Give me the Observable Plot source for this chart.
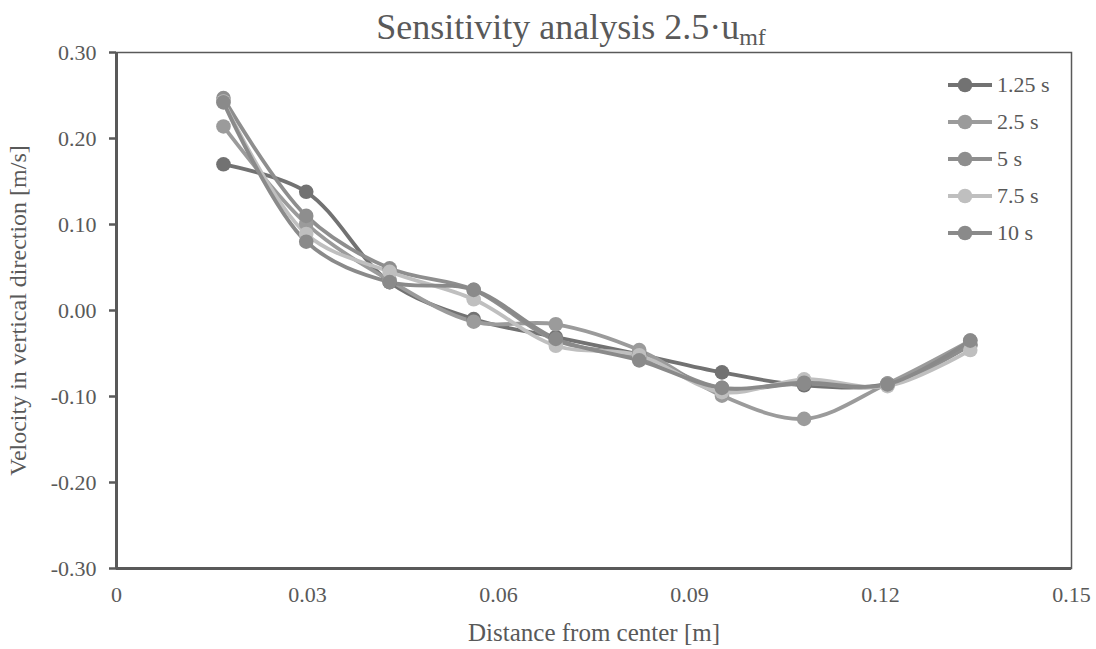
<!DOCTYPE html>
<html>
<head>
<meta charset="utf-8">
<script src="https://cdn.jsdelivr.net/npm/d3@7"></script>
<script src="https://cdn.jsdelivr.net/npm/@observablehq/plot@0.6"></script>
<style>
  html, body { margin: 0; padding: 0; background: #fff; }
  #wrap { position: relative; width: 1096px; height: 649px; font-family: "Liberation Serif", "DejaVu Serif", serif; color: #595959; }
  #title { height: 36px; text-align: center; font-size: 36px; line-height: 54px; padding-left: 46px; white-space: nowrap; }
  #title sub { font-size: 24px; vertical-align: -6px; line-height: 0; }
  #legend { position: absolute; left: 948px; top: 66px; font-size: 22px; }
  .lg { display: flex; align-items: center; height: 37.2px; }
  .lg svg { margin-right: 5px; }
  #chart svg text { font-family: "Liberation Serif", "DejaVu Serif", serif !important; fill: #595959; }
  #chart svg g[aria-label="y-axis tick label"] text, #chart svg g[aria-label="x-axis tick label"] text { font-size: 22px !important; }
  #chart svg g[aria-label="y-axis label"] text { font-size: 24px !important; }
  #chart svg g[aria-label="x-axis label"] text { font-size: 25px !important; }
</style>
</head>
<body>
<div id="wrap">
  <div id="title">Sensitivity analysis 2.5·u<sub>mf</sub></div>
  <div id="chart"></div>
  <div id="legend"></div>
</div>
<script>
const distance = [0.0168, 0.0298, 0.0429, 0.0561, 0.0690, 0.0821, 0.0951, 0.1080, 0.1211, 0.1341];
const seriesNames = ["1.25 s", "2.5 s", "5 s", "7.5 s", "10 s"];
const seriesColors = ["#727272", "#9b9b9b", "#8e8e8e", "#bfbfbf", "#8a8a8a"];
const v125 = [0.170, 0.138, 0.033, -0.010, -0.031, -0.051, -0.072, -0.087, -0.085, -0.040];
const v25  = [0.214, 0.101, 0.035, -0.013, -0.016, -0.046, -0.099, -0.126, -0.085, -0.035];
const v5   = [0.247, 0.110, 0.049, 0.024, -0.035, -0.054, -0.090, -0.085, -0.087, -0.040];
const v75  = [0.243, 0.089, 0.045, 0.013, -0.041, -0.052, -0.095, -0.080, -0.088, -0.046];
const v10  = [0.242, 0.080, 0.033, 0.024, -0.033, -0.058, -0.090, -0.084, -0.086, -0.035];
const yTicks = [-0.30, -0.20, -0.10, 0.00, 0.10, 0.20, 0.30];
const xTicks = [0, 0.03, 0.06, 0.09, 0.12, 0.15];

const allValues = [v125, v25, v5, v75, v10];
const rows = [];
allValues.forEach((vals, si) => {
  vals.forEach((v, i) => rows.push({series: seriesNames[si], x: distance[i], y: v}));
});

const color = {domain: seriesNames, range: seriesColors};
const ink = "#595959";

const chart = Plot.plot({
  width: 1096,
  height: 613,
  marginTop: 16,
  marginBottom: 81,
  marginLeft: 116,
  marginRight: 25,
  style: {fontFamily: '"Liberation Serif", serif', fontSize: "22px", color: ink, background: "#fff"},
  x: {domain: [0, 0.15]},
  y: {domain: [-0.3, 0.3]},
  color,
  marks: [
    Plot.axisY({ticks: yTicks, tickFormat: d => d.toFixed(2), tickSize: 7, tickPadding: 13, stroke: ink, strokeWidth: 2.5, color: ink,
      label: "Velocity in vertical direction [m/s]", labelAnchor: "center", labelOffset: 108, labelArrow: "none"}),
    Plot.axisX({ticks: xTicks, tickFormat: d => d === 0 ? "0" : d.toFixed(2), tickSize: 0, tickPadding: 18, color: ink,
      label: "Distance from center [m]", labelAnchor: "center", labelOffset: 72, labelArrow: "none"}),
    Plot.frame({stroke: ink, strokeWidth: 1.5}),
    Plot.ruleX([0], {stroke: ink, strokeWidth: 3}),
    Plot.ruleY([-0.3], {stroke: ink, strokeWidth: 3}),
    Plot.line(rows, {x: "x", y: "y", z: "series", stroke: "series", strokeWidth: 3.8, curve: "catmull-rom"}),
    Plot.dot(rows, {x: "x", y: "y", fill: "series", r: 7.3, stroke: "none"})
  ]
});
document.getElementById("chart").appendChild(chart);

const legend = document.getElementById("legend");
seriesNames.forEach((name, i) => {
  const row = document.createElement("div");
  row.className = "lg";
  row.innerHTML = `<svg width="44" height="16"><line x1="0" y1="8" x2="44" y2="8" stroke="${seriesColors[i]}" stroke-width="3.8"/><circle cx="17" cy="8" r="7.3" fill="${seriesColors[i]}"/></svg><span>${name}</span>`;
  legend.appendChild(row);
});
</script>
</body>
</html>
